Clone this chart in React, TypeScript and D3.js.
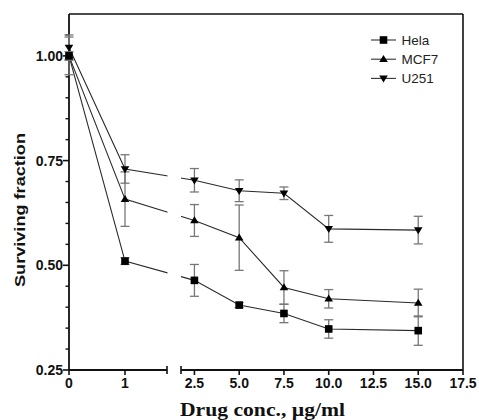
import React from "react";
import * as d3 from "d3";

const doses = [0, 1, 2.5, 5, 7.5, 10, 15];
const seriesNames = ["Hela", "MCF7", "U251"];
const helaMean = [1.0, 0.51, 0.464, 0.405, 0.385, 0.348, 0.344];
const helaErr = [0.01, 0.008, 0.038, 0.006, 0.022, 0.022, 0.035];
const mcf7Mean = [1.0, 0.658, 0.607, 0.566, 0.447, 0.42, 0.41];
const mcf7Err = [0.045, 0.065, 0.038, 0.078, 0.04, 0.022, 0.033];
const u251Mean = [1.02, 0.73, 0.703, 0.678, 0.672, 0.587, 0.584];
const u251Err = [0.03, 0.034, 0.028, 0.026, 0.015, 0.032, 0.033];
const xTicksLeft = [0, 1];
const xTicksRight = [2.5, 5, 7.5, 10, 12.5, 15, 17.5];
const yTicks = [0.25, 0.5, 0.75, 1.0];

const W = 479;
const H = 420;
const left = 69;
const top = 14;
const bottom = 370;
const right = 463;
const breakA = 167;
const breakB = 181;
const breakVal = 1.75;

const y = d3.scaleLinear().domain([0.25, 1.1]).range([bottom, top]);
const xL = d3.scaleLinear().domain([0, breakVal]).range([left, breakA]);
const xR = d3.scaleLinear().domain([breakVal, 17.5]).range([breakB, right]);
const xPos = (v: number) => (v <= breakVal ? xL(v) : xR(v));

const minorY = d3.range(0.3, 1.1, 0.05).filter(
  (v) => !yTicks.some((t) => Math.abs(t - v) < 1e-6)
);

type Shape = "square" | "up" | "down";
const series = [
  { name: seriesNames[0], mean: helaMean, err: helaErr, shape: "square" as Shape },
  { name: seriesNames[1], mean: mcf7Mean, err: mcf7Err, shape: "up" as Shape },
  { name: seriesNames[2], mean: u251Mean, err: u251Err, shape: "down" as Shape },
];

function Marker({ cx, cy, shape }: { cx: number; cy: number; shape: Shape }) {
  if (shape === "square") {
    return <rect x={cx - 3.8} y={cy - 3.8} width={7.6} height={7.6} fill="#000" />;
  }
  const s = 4.3;
  const hgt = 7;
  const pts =
    shape === "up"
      ? `${cx},${cy - hgt * 0.6} ${cx - s},${cy + hgt * 0.4} ${cx + s},${cy + hgt * 0.4}`
      : `${cx},${cy + hgt * 0.6} ${cx - s},${cy - hgt * 0.4} ${cx + s},${cy - hgt * 0.4}`;
  return <polygon points={pts} fill="#000" />;
}

export default function App() {
  const line = d3
    .line<[number, number]>()
    .x((d) => d[0])
    .y((d) => d[1]);
  const sans = "'Liberation Sans', Arial, Helvetica, sans-serif";
  const serif = "'Liberation Serif', 'Times New Roman', serif";
  const axisColor = "#111";
  const tickFont = 14;
  return (
    <svg
      width={W}
      height={H}
      style={{ position: "absolute", left: 0, top: 0, background: "#fff" }}
    >
      <defs>
        <clipPath id="brk">
          <rect x={0} y={0} width={breakA + 0.5} height={H} />
          <rect x={breakB} y={0} width={W - breakB} height={H} />
        </clipPath>
      </defs>
      <rect x={0} y={0} width={W} height={H} fill="#fff" />

      {/* frame */}
      <line x1={left} x2={right} y1={top} y2={top} stroke={axisColor} strokeWidth={1.6} />
      <line x1={right} x2={right} y1={top} y2={bottom} stroke={axisColor} strokeWidth={1.6} />
      <line x1={left} x2={left} y1={top} y2={bottom} stroke={axisColor} strokeWidth={1.8} />
      <line x1={left} x2={breakA} y1={bottom} y2={bottom} stroke={axisColor} strokeWidth={1.8} />
      <line x1={breakB} x2={right} y1={bottom} y2={bottom} stroke={axisColor} strokeWidth={1.8} />

      {/* y ticks */}
      {yTicks.map((t) => (
        <g key={"yt" + t}>
          <line x1={left - 6} x2={left} y1={y(t)} y2={y(t)} stroke={axisColor} strokeWidth={1.6} />
          <text
            x={left - 6}
            y={y(t)}
            dy="0.36em"
            textAnchor="end"
            fontFamily={sans}
            fontWeight="bold"
            fontSize={tickFont}
            fill="#111"
          >
            {t.toFixed(2)}
          </text>
        </g>
      ))}
      {minorY.map((t) => (
        <line
          key={"ym" + t}
          x1={left - 3.5}
          x2={left}
          y1={y(t)}
          y2={y(t)}
          stroke={axisColor}
          strokeWidth={1.4}
        />
      ))}

      {/* x ticks */}
      {xTicksLeft.map((t) => (
        <g key={"xl" + t}>
          <line x1={xL(t)} x2={xL(t)} y1={bottom} y2={bottom + 5} stroke={axisColor} strokeWidth={1.6} />
          <text
            x={xL(t)}
            y={bottom + 17.5}
            textAnchor="middle"
            fontFamily={sans}
            fontWeight="bold"
            fontSize={tickFont}
            fill="#111"
          >
            {String(t)}
          </text>
        </g>
      ))}
      {xTicksRight.map((t) => (
        <g key={"xr" + t}>
          <line x1={xR(t)} x2={xR(t)} y1={bottom} y2={bottom + 5} stroke={axisColor} strokeWidth={1.6} />
          <text
            x={xR(t)}
            y={bottom + 17.5}
            textAnchor="middle"
            fontFamily={sans}
            fontWeight="bold"
            fontSize={tickFont}
            fill="#111"
          >
            {t.toFixed(1)}
          </text>
        </g>
      ))}
      {/* break end ticks */}
      <line x1={xL(breakVal)} x2={xL(breakVal)} y1={bottom - 4} y2={bottom + 4} stroke={axisColor} strokeWidth={1.6} />
      <line x1={xR(breakVal)} x2={xR(breakVal)} y1={bottom - 4} y2={bottom + 4} stroke={axisColor} strokeWidth={1.6} />

      {/* axis titles */}
      <text
        transform={`translate(24.5,210) rotate(-90)`}
        textAnchor="middle"
        fontFamily={sans}
        fontWeight="bold"
        fontSize={15}
        textLength={154}
        lengthAdjust="spacingAndGlyphs"
        fill="#111"
      >
        Surviving fraction
      </text>
      <text
        x={262.5}
        y={416}
        textAnchor="middle"
        fontFamily={serif}
        fontWeight="bold"
        fontSize={19}
        textLength={165}
        lengthAdjust="spacingAndGlyphs"
        fill="#111"
      >
        Drug conc., µg/ml
      </text>

      {/* lines */}
      <g clipPath="url(#brk)">
        {series.map((s) => (
          <path
            key={"l" + s.name}
            d={line(doses.map((d, i) => [xPos(d), y(s.mean[i])] as [number, number])) || ""}
            fill="none"
            stroke="#2a2a2a"
            strokeWidth={1.1}
          />
        ))}
      </g>

      {/* error bars */}
      {series.map((s) =>
        doses.map((d, i) => {
          const cx = xPos(d);
          const y1 = y(s.mean[i] + s.err[i]);
          const y2 = y(s.mean[i] - s.err[i]);
          return (
            <g key={"e" + s.name + i} stroke="#777" strokeWidth={1.3}>
              <line x1={cx} x2={cx} y1={y1} y2={y2} />
              <line x1={cx - 4.5} x2={cx + 4.5} y1={y1} y2={y1} />
              <line x1={cx - 4.5} x2={cx + 4.5} y1={y2} y2={y2} />
            </g>
          );
        })
      )}

      {/* markers */}
      {series.map((s) =>
        doses.map((d, i) => (
          <Marker key={"m" + s.name + i} cx={xPos(d)} cy={y(s.mean[i])} shape={s.shape} />
        ))
      )}

      {/* legend */}
      {series.map((s, i) => {
        const ly = 40 + i * 19.2;
        return (
          <g key={"lg" + s.name}>
            <line x1={371} x2={396} y1={ly} y2={ly} stroke="#333" strokeWidth={1.1} />
            <Marker cx={383.5} cy={ly} shape={s.shape} />
            <text
              x={401.5}
              y={ly}
              dy="0.36em"
              fontFamily={sans}
              fontSize={13.5}
              fill="#222"
            >
              {s.name}
            </text>
          </g>
        );
      })}
    </svg>
  );
}
